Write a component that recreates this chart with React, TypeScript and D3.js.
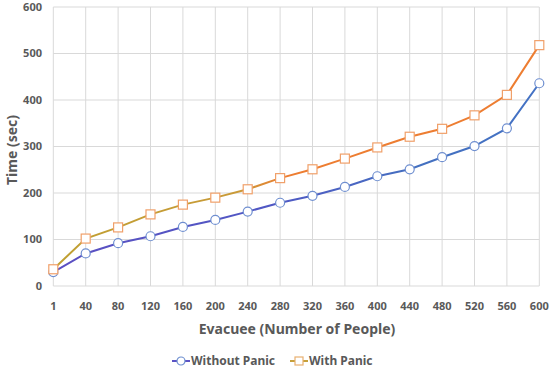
import { useEffect, useRef } from 'react';
import * as d3 from 'd3';

const categories = ['1', '40', '80', '120', '160', '200', '240', '280', '320', '360', '400', '440', '480', '520', '560', '600'];
const withoutPanic = [30, 70, 92, 107, 127, 142, 160, 179, 194, 213, 236, 251, 277, 301, 339, 436];
const withPanic = [36, 102, 126, 154, 175, 190, 208, 232, 251, 274, 298, 321, 338, 367, 411, 518];
const yTicks = [0, 100, 200, 300, 400, 500, 600];

const width = 550;
const height = 370;
const font = '"Noto Sans", "Open Sans", sans-serif';

export default function App() {
  const svgRef = useRef<SVGSVGElement>(null);

  useEffect(() => {
    if (!svgRef.current) return;
    const svg = d3.select(svgRef.current);
    svg.selectAll('*').remove();

    const left = 53.3;
    const right = 539.3;
    const top = 7;
    const bottom = 286;

    const x = d3.scalePoint<string>().domain(categories).range([left, right]).padding(0);
    const y = d3.scaleLinear().domain([0, 600]).range([bottom, top]);

    // gradients for the two lines (the original lines shade from left to right)
    const defs = svg.append('defs');
    const blueGrad = defs.append('linearGradient')
      .attr('id', 'gBlue')
      .attr('gradientUnits', 'userSpaceOnUse')
      .attr('x1', left).attr('x2', right).attr('y1', 0).attr('y2', 0);
    blueGrad.append('stop').attr('offset', '0%').attr('stop-color', '#5b4fc2');
    blueGrad.append('stop').attr('offset', '45%').attr('stop-color', '#5058c4');
    blueGrad.append('stop').attr('offset', '75%').attr('stop-color', '#4470c0');
    blueGrad.append('stop').attr('offset', '100%').attr('stop-color', '#4472c4');

    const orangeGrad = defs.append('linearGradient')
      .attr('id', 'gOrange')
      .attr('gradientUnits', 'userSpaceOnUse')
      .attr('x1', left).attr('x2', right).attr('y1', 0).attr('y2', 0);
    orangeGrad.append('stop').attr('offset', '0%').attr('stop-color', '#bfa032');
    orangeGrad.append('stop').attr('offset', '38%').attr('stop-color', '#c99a38');
    orangeGrad.append('stop').attr('offset', '48%').attr('stop-color', '#ed7d31');
    orangeGrad.append('stop').attr('offset', '100%').attr('stop-color', '#ed7d31');

    // grid
    const grid = svg.append('g');
    grid.selectAll('line.h')
      .data(yTicks)
      .enter()
      .append('line')
      .attr('x1', left).attr('x2', right)
      .attr('y1', d => y(d)).attr('y2', d => y(d))
      .attr('stroke', '#d9d9d9').attr('stroke-width', 1);
    grid.selectAll('line.v')
      .data(categories)
      .enter()
      .append('line')
      .attr('x1', d => x(d)!).attr('x2', d => x(d)!)
      .attr('y1', top).attr('y2', bottom)
      .attr('stroke', '#d9d9d9').attr('stroke-width', 1);

    // y tick labels
    svg.append('g')
      .selectAll('text')
      .data(yTicks)
      .enter()
      .append('text')
      .attr('x', 42)
      .attr('y', d => y(d))
      .attr('dy', '0.35em')
      .attr('text-anchor', 'end')
      .attr('font-family', font)
      .attr('font-size', 11)
      .attr('font-weight', 'bold')
      .attr('fill', '#595959')
      .text(d => d);

    // x tick labels
    svg.append('g')
      .selectAll('text')
      .data(categories)
      .enter()
      .append('text')
      .attr('x', d => x(d)!)
      .attr('y', 306)
      .attr('dy', '0.35em')
      .attr('text-anchor', 'middle')
      .attr('font-family', font)
      .attr('font-size', 11)
      .attr('font-weight', 'bold')
      .attr('fill', '#595959')
      .text(d => d);

    // axis titles
    svg.append('text')
      .attr('transform', 'translate(12, 150) rotate(-90)')
      .attr('text-anchor', 'middle')
      .attr('dy', '0.35em')
      .attr('font-family', font)
      .attr('font-size', 14)
      .attr('font-weight', 'bold')
      .attr('fill', '#595959')
      .text('Time (sec)');

    svg.append('text')
      .attr('x', 297)
      .attr('y', 329)
      .attr('dy', '0.35em')
      .attr('text-anchor', 'middle')
      .attr('font-family', font)
      .attr('font-size', 14)
      .attr('font-weight', 'bold')
      .attr('fill', '#595959')
      .text('Evacuee (Number of People)');

    const line = d3.line<number>()
      .x((_, i) => x(categories[i])!)
      .y(d => y(d));

    // series
    svg.append('path')
      .datum(withoutPanic)
      .attr('d', line)
      .attr('fill', 'none')
      .attr('stroke', 'url(#gBlue)')
      .attr('stroke-width', 2);

    svg.append('path')
      .datum(withPanic)
      .attr('d', line)
      .attr('fill', 'none')
      .attr('stroke', 'url(#gOrange)')
      .attr('stroke-width', 2);

    svg.append('g')
      .selectAll('circle')
      .data(withoutPanic)
      .enter()
      .append('circle')
      .attr('cx', (_, i) => x(categories[i])!)
      .attr('cy', d => y(d))
      .attr('r', 4.5)
      .attr('fill', '#ffffff')
      .attr('stroke', '#6f8fd0')
      .attr('stroke-width', 1.2);

    svg.append('g')
      .selectAll('rect')
      .data(withPanic)
      .enter()
      .append('rect')
      .attr('x', (_, i) => x(categories[i])! - 4.5)
      .attr('y', d => y(d) - 4.5)
      .attr('width', 9)
      .attr('height', 9)
      .attr('fill', '#ffffff')
      .attr('stroke', '#f0a06a')
      .attr('stroke-width', 1.2);

    // legend
    const lg = svg.append('g').attr('transform', 'translate(0, 361)');
    lg.append('line')
      .attr('x1', 172).attr('x2', 190).attr('y1', 0).attr('y2', 0)
      .attr('stroke', '#5b52c4').attr('stroke-width', 2);
    lg.append('circle')
      .attr('cx', 181).attr('cy', 0).attr('r', 4)
      .attr('fill', '#ffffff').attr('stroke', '#6f8fd0').attr('stroke-width', 1.2);
    lg.append('text')
      .attr('x', 191).attr('y', 0).attr('dy', '0.35em')
      .attr('font-family', font).attr('font-size', 12).attr('font-weight', 'bold')
      .attr('fill', '#595959')
      .text('Without Panic');

    lg.append('line')
      .attr('x1', 290).attr('x2', 308).attr('y1', 0).attr('y2', 0)
      .attr('stroke', '#c6a03a').attr('stroke-width', 2);
    lg.append('rect')
      .attr('x', 295).attr('y', -4).attr('width', 8).attr('height', 8)
      .attr('fill', '#ffffff').attr('stroke', '#e8b070').attr('stroke-width', 1.2);
    lg.append('text')
      .attr('x', 309).attr('y', 0).attr('dy', '0.35em')
      .attr('font-family', font).attr('font-size', 12).attr('font-weight', 'bold')
      .attr('fill', '#595959')
      .text('With Panic');
  }, []);

  return (
    <div style={{ position: 'absolute', left: 0, top: 0, width, height, background: '#ffffff' }}>
      <svg ref={svgRef} width={width} height={height} style={{ display: 'block' }} />
    </div>
  );
}
